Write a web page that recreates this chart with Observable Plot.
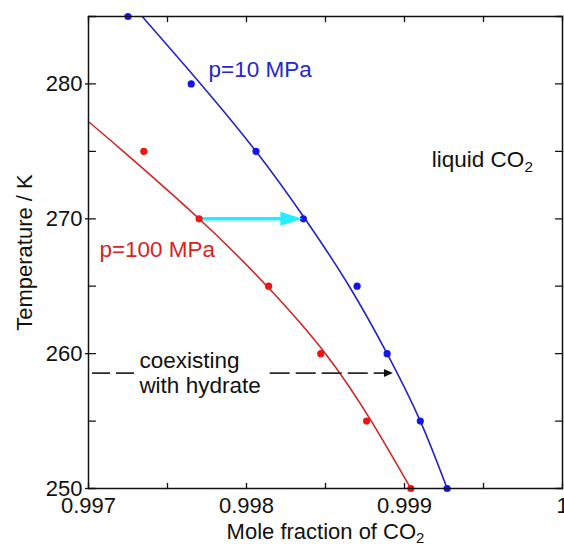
<!DOCTYPE html>
<html><head><meta charset="utf-8">
<script src="https://cdn.jsdelivr.net/npm/d3@7"></script>
<script src="https://cdn.jsdelivr.net/npm/@observablehq/plot@0.6"></script>
<style>
body{margin:0;background:#fff}
#chart svg{font-family:"Liberation Sans",Arial,sans-serif;overflow:visible}
</style>
</head><body><div id="chart"></div><script>
// ---- data ----
// simulation points, p = 10 MPa
const temp10 = [285, 280, 275, 270, 265, 260, 255, 250];
const frac10 = [0.99725, 0.99765, 0.99806, 0.99836, 0.99870, 0.99889, 0.99910, 0.99927];
// simulation points, p = 100 MPa
const temp100 = [275, 270, 265, 260, 255, 250];
const frac100 = [0.99735, 0.99770, 0.99814, 0.99847, 0.99876, 0.99904];
// fitted curves
const fitTemp10 = [285, 280, 275, 270, 265, 260, 255, 250];
const fitFrac10 = [0.99734, 0.99771, 0.99806, 0.99837, 0.99865, 0.99889, 0.99910, 0.99927];
const fitTemp100 = [277.2, 275, 270, 265, 260, 255, 250];
const fitFrac100 = [0.99700, 0.99722, 0.99770, 0.99813, 0.99850, 0.99879, 0.99904];
// arrows
const cyanArrowTemp = 270, cyanFrom = 0.99770, cyanTo = 0.99836;
const hydrateTemp = 258.56, hydrateTo = 0.998927;
const hydrateGapFrom = 0.997297, hydrateGapTo = 0.998150;
// axes
const xTickValues = [0.997, 0.998, 0.999, 1];
const xTickLabels = ["0.997", "0.998", "0.999", "1"];
const xMinorTicks = [0.997, 0.9975, 0.998, 0.9985, 0.999, 0.9995, 1];
const yTickValues = [250, 260, 270, 280];
const yTickLabels = ["250", "260", "270", "280"];
const yMinorTicks = [250, 255, 260, 265, 270, 275, 280, 285];

const pts10 = temp10.map((t, i) => ({t, x: frac10[i]}));
const pts100 = temp100.map((t, i) => ({t, x: frac100[i]}));
const fit10 = fitTemp10.map((t, i) => ({t, x: fitFrac10[i]}));
const fit100 = fitTemp100.map((t, i) => ({t, x: fitFrac100[i]}));

const BLUE_LINE = "#2424c8", BLUE_PT = "#1414f0", RED_LINE = "#d02626", RED_PT = "#f01414";
const CYAN = "#22eeff";

const line = {draw(ctx, l) { ctx.moveTo(0, 0); ctx.lineTo(0, -l); }};
const bigHead = {draw(ctx) { ctx.moveTo(0, 0); ctx.lineTo(-22, -7); ctx.lineTo(-22, 7); ctx.closePath(); }};
const smallHead = {draw(ctx) { ctx.moveTo(0, 0); ctx.lineTo(-9, -4); ctx.lineTo(-9, 4); ctx.closePath(); }};

const xFmt = d => xTickLabels[xTickValues.indexOf(d)];
const yFmt = d => yTickLabels[yTickValues.indexOf(d)];

const chart = Plot.plot({
  width: 564, height: 546,
  marginLeft: 88, marginRight: 2, marginTop: 16, marginBottom: 58,
  style: {fontFamily: "Liberation Sans, Arial, sans-serif", fontSize: "22px", background: "white", color: "black"},
  x: {domain: [0.997, 1]},
  y: {domain: [250, 285]},
  marks: [
    // fitted curves
    Plot.line(fit10, {x: "x", y: "t", curve: "natural", stroke: BLUE_LINE, strokeWidth: 1.6}),
    Plot.line(fit100, {x: "x", y: "t", curve: "natural", stroke: RED_LINE, strokeWidth: 1.6}),
    // hydrate dashed arrow
    Plot.ruleY([hydrateTemp], {x1: 0.997, x2: hydrateGapFrom, insetLeft: 4, stroke: "#2a2a2a", strokeWidth: 1.7, strokeDasharray: "18,6"}),
    Plot.ruleY([hydrateTemp], {x1: hydrateGapTo, x2: hydrateTo, insetRight: 6, stroke: "#2a2a2a", strokeWidth: 1.7, strokeDasharray: "20,6"}),
    Plot.dot([hydrateTemp], {x: hydrateTo, y: d => d, symbol: smallHead, fill: "#111", stroke: null}),
    // cyan arrow
    Plot.ruleY([cyanArrowTemp], {x1: cyanFrom, x2: cyanTo, insetRight: 12, stroke: CYAN, strokeWidth: 3.5}),
    // points
    Plot.dot(pts10, {x: "x", y: "t", r: 3.6, fill: BLUE_PT, stroke: null}),
    Plot.dot(pts100, {x: "x", y: "t", r: 3.6, fill: RED_PT, stroke: null}),
    Plot.dot([cyanArrowTemp], {x: cyanTo, y: d => d, dx: -1, symbol: bigHead, fill: CYAN, stroke: null}),
    // annotations
    Plot.text(["p=10 MPa"], {x: 0.99776, y: 280.48, text: d => d, textAnchor: "start", lineAnchor: "bottom", fill: "#2626c8", fontSize: 22.5}),
    Plot.text(["p=100 MPa"], {x: 0.997069, y: 267.15, text: d => d, textAnchor: "start", lineAnchor: "bottom", fill: "#d42424", fontSize: 22.5}),
    Plot.text(["liquid CO₂"], {x: 0.999173, y: 273.81, text: d => d, textAnchor: "start", lineAnchor: "bottom", fill: "#111", fontSize: 22.5}),
    Plot.text(["coexisting\nwith hydrate"], {x: 0.997322, y: 257.07, text: d => d, textAnchor: "start", lineAnchor: "bottom", lineHeight: 1.13, fill: "#111", fontSize: 22.5}),
    // frame
    Plot.frame({stroke: "#111", strokeWidth: 1.5}),
    // inward ticks
    Plot.vector(xMinorTicks, {x: d => d, y: 250, length: 5, rotate: 0, anchor: "start", shape: line, stroke: "#111", strokeWidth: 1.3}),
    Plot.vector(xMinorTicks, {x: d => d, y: 285, length: 5, rotate: 180, anchor: "start", shape: line, stroke: "#111", strokeWidth: 1.3}),
    Plot.vector(yMinorTicks, {x: 0.997, y: d => d, length: 7, rotate: 90, anchor: "start", shape: line, stroke: "#111", strokeWidth: 1.3}),
    Plot.vector(yMinorTicks, {x: 1, y: d => d, length: 7, rotate: -90, anchor: "start", shape: line, stroke: "#111", strokeWidth: 1.3}),
    // axes labels
    Plot.axisX({ticks: xTickValues, tickFormat: xFmt, tickSize: 0, tickPadding: 9, label: null, fontSize: 22, fill: "#111"}),
    Plot.axisY({ticks: yTickValues, tickFormat: yFmt, tickSize: 3, tickPadding: 3, label: null, fontSize: 22, fill: "#111", stroke: "#111", strokeWidth: 1.3}),
    Plot.text(["Mole fraction of CO₂"], {frameAnchor: "bottom", text: d => d, dy: 50, lineAnchor: "bottom", textAnchor: "middle", fontSize: 22, fill: "#111"}),
    Plot.text(["Temperature / K"], {frameAnchor: "left", text: d => d, dx: -57, rotate: -90, lineAnchor: "bottom", textAnchor: "middle", fontSize: 22, fill: "#111"})
  ]
});
document.getElementById("chart").appendChild(chart);

// render the ₂ as a real subscript
chart.querySelectorAll("text").forEach(t => {
  if (t.children.length === 0 && t.textContent.includes("₂")) {
    const s = t.textContent.replace("₂", "");
    t.textContent = s;
    const sub = document.createElementNS("http://www.w3.org/2000/svg", "tspan");
    sub.setAttribute("font-size", "0.68em");
    sub.setAttribute("dy", "0.3em");
    sub.textContent = "2";
    t.appendChild(sub);
  }
});
</script></body></html>
